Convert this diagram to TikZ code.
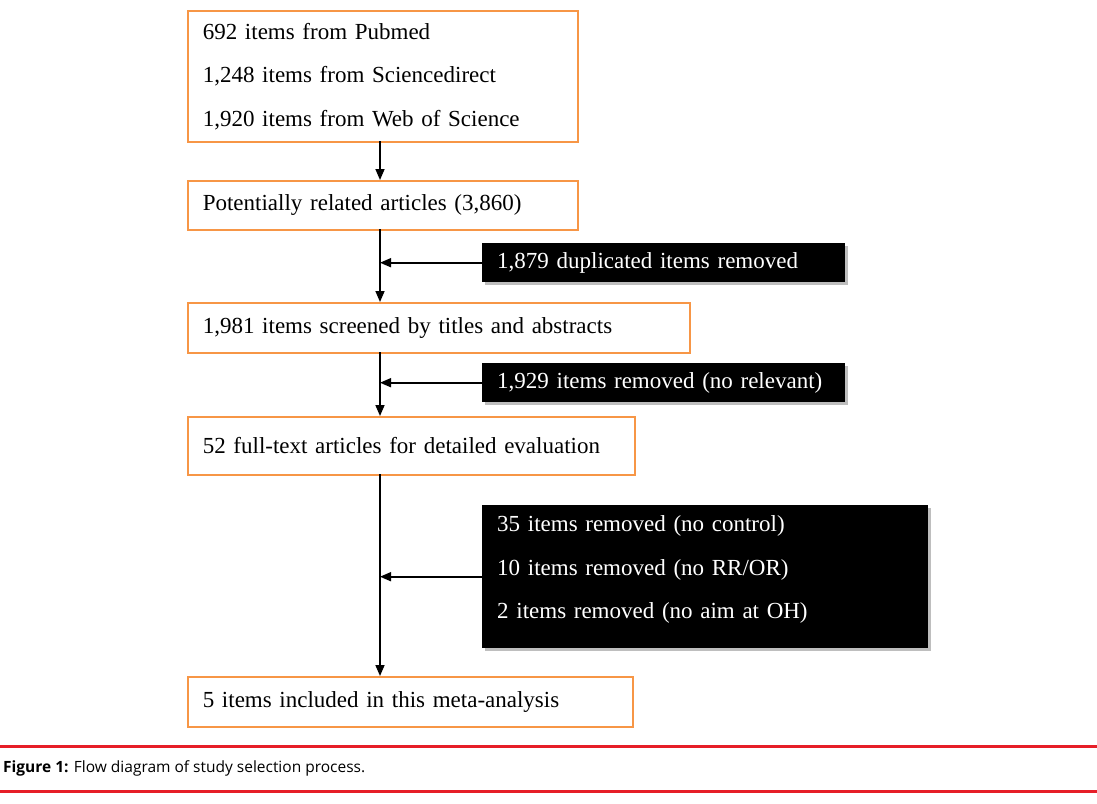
\documentclass[tikz,border=0pt]{standalone}
\usepackage{fontspec}
\setmainfont{Liberation Serif}
\newfontfamily\capfont{Open Sans}
\usetikzlibrary{arrows.meta,shadows}
\definecolor{boxorange}{RGB}{247,150,70}
\definecolor{capred}{RGB}{230,30,40}
\definecolor{shadowgrey}{RGB}{190,190,190}
\begin{document}
\begin{tikzpicture}[x=1pt,y=-1pt,
  obox/.style={draw=boxorange,line width=1.6pt,fill=white,anchor=north west,
    inner xsep=15pt,inner ysep=0pt,align=left,font=\fontsize{23}{43.5}\selectfont},
  bbox/.style={fill=black,text=white,anchor=north west,inner xsep=15pt,inner ysep=0pt,
    align=left,font=\fontsize{23}{43.5}\selectfont,
    drop shadow={shadow xshift=3pt,shadow yshift=-3pt,fill=shadowgrey,opacity=1}},
  flow/.style={line width=1.6pt,-{Triangle[length=11pt,width=9pt]}},
  side/.style={line width=1.6pt,-{Triangle[length=11pt,width=9pt]}}
]
\useasboundingbox (0,0) rectangle (1097,803);
\fill[white] (0,0) rectangle (1097,803);

\node[obox,minimum width=390pt,minimum height=131pt,text width=360pt] (b1) at (187,10)
  {692 items from Pubmed\\1,248 items from Sciencedirect\\1,920 items from Web of Science};
\node[obox,minimum width=390pt,minimum height=49pt,text width=360pt] (b2) at (187,180)
  {Potentially related articles (3,860)};
\node[obox,minimum width=502pt,minimum height=50pt,text width=472pt] (b3) at (187,302)
  {1,981 items screened by titles and abstracts};
\node[obox,minimum width=447pt,minimum height=58pt,text width=417pt] (b4) at (187,416)
  {52 full-text articles for detailed evaluation};
\node[obox,minimum width=445pt,minimum height=50pt,text width=415pt] (b5) at (187,676)
  {5 items included in this meta-analysis};

\node[bbox,minimum width=363pt,minimum height=39pt,text width=333pt] (r1) at (482,243)
  {1,879 duplicated items removed};
\node[bbox,minimum width=363pt,minimum height=39pt,text width=333pt] (r2) at (482,363)
  {1,929 items removed (no relevant)};
\node[bbox,minimum width=446pt,minimum height=143pt,text width=416pt] (r3) at (482,505)
  {35 items removed (no control)\\10 items removed (no RR/OR)\\2 items removed (no aim at OH)\\[-38pt]\strut};

\coordinate (c1) at (380,141);
\coordinate (c2) at (380,180);
\coordinate (c3) at (380,229);
\coordinate (c4) at (380,302);
\coordinate (c5) at (380,352);
\coordinate (c6) at (380,416);
\coordinate (c7) at (380,474);
\coordinate (c8) at (380,676);
\draw[flow] (c1) -- (c2);
\draw[flow] (c3) -- (c4);
\draw[flow] (c5) -- (c6);
\draw[flow] (c7) -- (c8);
\draw[side] (r1.west) -- (r1.west -| c3);
\draw[side] (r2.west) -- (r2.west -| c5);
\draw[side] (r3.west) -- (r3.west -| c7);

\coordinate (l1a) at (0,746); \coordinate (l1b) at (1097,746);
\coordinate (l2a) at (0,791); \coordinate (l2b) at (1097,791);
\draw[capred,line width=3pt] (l1a) -- (l1b);
\draw[capred,line width=3pt] (l2a) -- (l2b);
\node[anchor=west,inner sep=0pt,font=\capfont\fontsize{15.5}{18}\selectfont] (cap) at (3,768)
  {\textbf{Figure 1:} Flow diagram of study selection process.};
\end{tikzpicture}
\end{document}
